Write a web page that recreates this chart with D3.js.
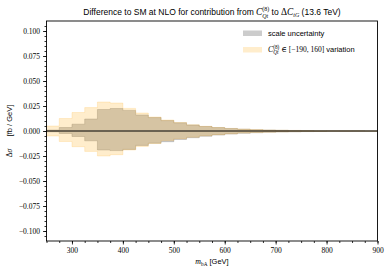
<!DOCTYPE html>
<html>
<head>
<meta charset="utf-8">
<script src="https://cdn.jsdelivr.net/npm/d3@7"></script>
<style>
  html, body { margin: 0; padding: 0; background: #fff; }
  svg { display: block; }
  svg text { white-space: pre; }
</style>
</head>
<body>
<div id="chart"></div>
<script>
// bin lower edges, 25 GeV bins from 250 to 900
const binStarts = [250, 275, 300, 325, 350, 375, 400, 425, 450, 475, 500, 525, 550,
                   575, 600, 625, 650, 675, 700, 725, 750, 775, 800, 825, 850, 875];
const binEnd = 900;

// C_Qt^(8) variation band (fb / GeV)
const varUp   = [0.0050, 0.0125, 0.0185, 0.0234, 0.0290, 0.0280, 0.0226, 0.0180, 0.0140, 0.0110,
                 0.0085, 0.0063, 0.0047, 0.0035, 0.0026, 0.0019, 0.0014, 0.0010, 0.0008, 0.0006,
                 0.0004, 0.0003, 0.00025, 0.0002, 0.00015, 0.0001];
const varDown = [-0.0050, -0.0105, -0.0157, -0.0204, -0.0250, -0.0237, -0.0190, -0.0154, -0.0125, -0.0096,
                 -0.0078, -0.0062, -0.0048, -0.0037, -0.0028, -0.0021, -0.0016, -0.0012, -0.0009, -0.0007,
                 -0.0005, -0.0004, -0.0003, -0.00025, -0.0002, -0.00015];

// scale uncertainty band
const scaleUp   = [0.0010, 0.0035, 0.0068, 0.0120, 0.0215, 0.0225, 0.0206, 0.0160, 0.0134, 0.0104,
                   0.0082, 0.0060, 0.0045, 0.0034, 0.0025, 0.0018, 0.0013, 0.0010, 0.0007, 0.0005,
                   0.0004, 0.0003, 0.00025, 0.0002, 0.00015, 0.0001];
const scaleDown = [-0.0008, -0.0025, -0.0055, -0.0098, -0.0190, -0.0196, -0.0184, -0.0144, -0.0122, -0.0107,
                   -0.0084, -0.0067, -0.0052, -0.0040, -0.0030, -0.0023, -0.0017, -0.0013, -0.0010, -0.0008,
                   -0.0006, -0.0004, -0.0003, -0.00025, -0.0002, -0.00015];

const yTicks = [-0.1, -0.075, -0.05, -0.025, 0, 0.025, 0.05, 0.075, 0.1];
const xTicks = [300, 400, 500, 600, 700, 800, 900];

const width = 390, height = 271;
const plot = { left: 46.5, right: 377.5, top: 21, bottom: 241 };

const serif = "'Liberation Serif', 'DejaVu Serif', serif";
const sans = "'Liberation Sans', 'DejaVu Sans', sans-serif";

const svg = d3.select("#chart").append("svg")
  .attr("width", width)
  .attr("height", height);

const x = d3.scaleLinear().domain([250, 900]).range([plot.left, plot.right]);
const y = d3.scaleLinear().domain([-0.11, 0.11]).range([plot.bottom, plot.top]);

// step data, last bin repeated at the upper edge
function steps(lo, hi) {
  const pts = binStarts.map((b, i) => ({ x: b, lo: lo[i], hi: hi[i] }));
  pts.push({ x: binEnd, lo: lo[lo.length - 1], hi: hi[hi.length - 1] });
  return pts;
}

const area = d3.area()
  .curve(d3.curveStepAfter)
  .x(d => x(d.x))
  .y0(d => y(d.lo))
  .y1(d => y(d.hi));

svg.append("path")
  .datum(steps(scaleDown, scaleUp))
  .attr("d", area)
  .attr("fill", "#808080")
  .attr("fill-opacity", 0.4)
  .attr("stroke", "#808080")
  .attr("stroke-opacity", 0.4)
  .attr("stroke-width", 0.8);

svg.append("path")
  .datum(steps(varDown, varUp))
  .attr("d", area)
  .attr("fill", "#ffa500")
  .attr("fill-opacity", 0.2)
  .attr("stroke", "#ffa500")
  .attr("stroke-opacity", 0.2)
  .attr("stroke-width", 0.8);

// zero line
svg.append("line")
  .attr("x1", x(250)).attr("x2", x(900))
  .attr("y1", y(0)).attr("y2", y(0))
  .attr("stroke", "#000")
  .attr("stroke-width", 1);

// axes
const yAxis = d3.axisLeft(y).tickValues(yTicks).tickSize(3.5).tickPadding(3)
  .tickFormat(d => d3.format(".3f")(d).replace("-", "\u2212"));
const yMinor = d3.axisLeft(y).tickValues(d3.range(-0.105, 0.1051, 0.005)).tickSize(2).tickFormat("");
const xAxis = d3.axisBottom(x).tickValues(xTicks).tickSize(3.5).tickPadding(3);
const xMinor = d3.axisBottom(x).tickValues(d3.range(250, 901, 25)).tickSize(2).tickFormat("");

function styleAxis(g) {
  g.select(".domain").remove();
  g.selectAll("line").attr("stroke", "#000").attr("stroke-width", 0.8);
  g.selectAll("text").attr("font-family", serif).attr("font-size", 7.5).attr("fill", "#000");
}

svg.append("g").attr("transform", `translate(${plot.left},0)`).call(yMinor).call(styleAxis);
svg.append("g").attr("transform", `translate(${plot.left},0)`).call(yAxis).call(styleAxis);
svg.append("g").attr("transform", `translate(0,${plot.bottom})`).call(xMinor).call(styleAxis);
svg.append("g").attr("transform", `translate(0,${plot.bottom})`).call(xAxis).call(styleAxis);

// frame
svg.append("rect")
  .attr("x", plot.left).attr("y", plot.top)
  .attr("width", plot.right - plot.left).attr("height", plot.bottom - plot.top)
  .attr("fill", "none").attr("stroke", "#000").attr("stroke-width", 0.9);

// rich text: parts laid out left to right, {t, it, fam, dy (up), sc, stack}
function rich(parent, x0, y0, parts, size, baseFam, anchor) {
  const t = parent.append("text").attr("font-size", size).attr("fill", "#000");
  let cx = 0, prevStart = 0, prevW = 0;
  parts.forEach(p => {
    const sz = size * (p.sc || 1);
    const start = p.stack ? prevStart : cx;
    const sp = t.append("tspan")
      .attr("x", start)
      .attr("y", -(p.dy || 0) * size)
      .attr("font-size", sz)
      .attr("font-family", p.fam || baseFam)
      .attr("font-style", p.it ? "italic" : "normal")
      .text(p.t);
    const w = sp.node().getComputedTextLength();
    if (p.stack) {
      cx = start + Math.max(w, prevW);
    } else {
      cx = start + w;
    }
    prevStart = start;
    prevW = w;
  });
  const total = cx;
  const off = anchor === "middle" ? -total / 2 : anchor === "end" ? -total : 0;
  t.attr("transform", `translate(${x0 + off},${y0})`);
  return t;
}

// title
rich(svg, (plot.left + plot.right) / 2, 15, [
  { t: "Difference to SM at NLO for contribution from " },
  { t: "C", it: true, fam: serif, sc: 1.1 },
  { t: "(8)", fam: serif, sc: 0.7, dy: 0.45 },
  { t: "Qt", it: true, fam: serif, sc: 0.7, dy: -0.3, stack: true },
  { t: " to " },
  { t: "\u0394", fam: serif, sc: 1.1 },
  { t: "C", it: true, fam: serif, sc: 1.1 },
  { t: "tG", it: true, fam: serif, sc: 0.7, dy: -0.25 },
  { t: " (13.6 TeV)" }
], 8.5, sans, "middle");

// x label
rich(svg, (plot.left + plot.right) / 2, 264, [
  { t: "m", it: true, fam: serif, sc: 1.05 },
  { t: "bA", fam: serif, sc: 0.7, dy: -0.25 },
  { t: " [GeV]", fam: sans }
], 7.5, serif, "middle");

// y label
const yl = svg.append("g").attr("transform", `translate(12,${(plot.top + plot.bottom) / 2}) rotate(-90)`);
rich(yl, 0, 0, [
  { t: "\u0394", fam: serif },
  { t: "\u03c3", it: true, fam: serif },
  { t: "      [fb / GeV]", fam: sans }
], 7.5, serif, "middle");

// legend
const legend = [
  { color: "#808080", op: 0.4, parts: [{ t: "scale uncertainty" }] },
  { color: "#ffa500", op: 0.2, parts: [
      { t: "C", it: true, fam: serif, sc: 1.05 },
      { t: "(8)", fam: serif, sc: 0.7, dy: 0.45 },
      { t: "Qt", it: true, fam: serif, sc: 0.7, dy: -0.3, stack: true },
      { t: " \u2208 [\u2212190, 160]", fam: serif },
      { t: " variation" }
  ] }
];
legend.forEach((l, i) => {
  const ly = 33 + i * 16.5;
  svg.append("rect")
    .attr("x", 243).attr("y", ly - 2.5)
    .attr("width", 19).attr("height", 5.5)
    .attr("fill", l.color).attr("fill-opacity", l.op);
  rich(svg, 268, ly + 2.5, l.parts, 7.5, sans, "start");
});
</script>
</body>
</html>
